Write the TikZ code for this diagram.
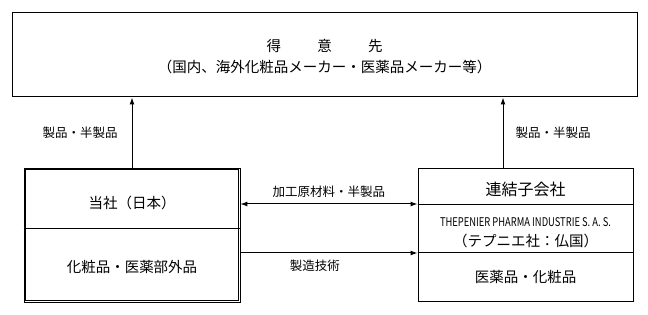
\documentclass[tikz,border=0pt]{standalone}
\usepackage{fontspec}
\newfontfamily\jp{Noto Sans CJK JP}
\usetikzlibrary{arrows.meta, positioning, calc}
\tikzset{
  box/.style={rectangle, draw=black, line width=1pt, inner sep=0pt},
  inbox/.style={draw=black, line width=0.7pt},
  txt/.style={font=\jp\fontsize{14.5}{16}\selectfont, inner sep=0pt},
  lbl/.style={font=\jp\fontsize{12.5}{14}\selectfont, inner sep=0pt},
  arrow/.style={-{Latex[length=7pt,width=5pt]}, line width=1pt},
  darrow/.style={{Latex[length=7pt,width=5pt]}-{Latex[length=7pt,width=5pt]}, line width=1pt},
  line/.style={line width=1pt}
}
\begin{document}
\begin{tikzpicture}[x=1pt, y=-1pt]
  \useasboundingbox (0,0) rectangle (648,315);

  % Nodes
  \node[box, minimum width=625pt, minimum height=84pt] (client) at (324.5,55) {};
  \node[txt] (clientname) at (324.5,46) {得\hspace{2.5em}意\hspace{2.5em}先};
  \node[txt] (clientnote) at (324.5,67) {（国内、海外化粧品メーカー・医薬品メーカー等）};

  \node[box, line width=0.8pt, minimum width=216pt, minimum height=134pt] (tosha) at (132,235) {};
  \node[txt] (toshaname) at (132,203) {当社（日本）};
  \node[txt] (toshaprod) at (132,267) {化粧品・医薬部外品};

  \node[box, minimum width=215pt, minimum height=132pt] (sub) at (525.5,235) {};
  \node[txt, font=\jp\fontsize{16}{18}\selectfont] (subhead) at (525.5,189) {連結子会社};
  \node[inner sep=0pt, font=\jp\fontsize{12}{13}\selectfont] (subname) at (525.5,222)
    {\scalebox{0.78}[1]{THEPENIER PHARMA INDUSTRIE S. A. S.}};
  \node[txt] (subnote) at (525.5,241) {（テプニエ社：仏国）};
  \node[txt] (subprod) at (525.5,277) {医薬品・化粧品};

  \coordinate (toshadiv) at (0,229);
  \coordinate (subdiva) at (0,205);
  \coordinate (subdivb) at (0,253);
  \coordinate (subup) at (503,0);
  \coordinate (rowa) at (0,204);
  \coordinate (rowb) at (0,253);

  % Paths
  \draw[inbox] ($(tosha.north west)+(2,2)$) rectangle ($(tosha.south east)+(-2,-2)$);
  \draw[line] (tosha.west |- toshadiv) -- (tosha.east |- toshadiv);
  \draw[line] (sub.west |- subdiva) -- (sub.east |- subdiva);
  \draw[line] (sub.west |- subdivb) -- (sub.east |- subdivb);

  \draw[arrow] (tosha.north) -- node[lbl, midway, left=14pt] {製品・半製品} (tosha.north |- client.south);
  \draw[arrow] (sub.north -| subup) -- node[lbl, midway, right=12pt] {製品・半製品} (client.south -| subup);
  \draw[darrow] (tosha.east |- rowa) -- node[lbl, midway, above=6pt] {加工原材料・半製品} (sub.west |- rowa);
  \draw[arrow] (tosha.east |- rowb) -- node[lbl, pos=0.42, below=6pt] {製造技術} (sub.west |- rowb);

\end{tikzpicture}
\end{document}
